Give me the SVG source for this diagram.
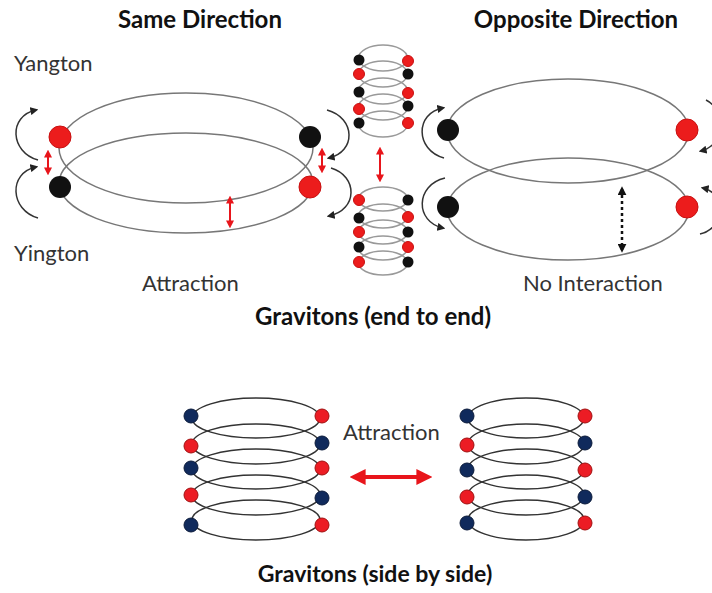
<svg xmlns="http://www.w3.org/2000/svg" width="712" height="593" viewBox="0 0 712 593">
<defs>
<style>
.t{font-family:Lato,"Open Sans","Liberation Sans",sans-serif;font-size:22px;fill:#333}
.b{font-family:Lato,"Open Sans","Liberation Sans",sans-serif;font-size:24px;font-weight:bold;fill:#111}
.ring{fill:none;stroke:#777;stroke-width:1.5}
.ringl{fill:none;stroke:#999;stroke-width:1.5}
.ringb{fill:none;stroke:#333;stroke-width:1.5}
.spin{fill:none;stroke:#333;stroke-width:1.5}
.red{fill:#ec1c1c;stroke:#c81010;stroke-width:1}
.blk{fill:#111}
.nav{fill:#102a5c;stroke:#0a1a3a;stroke-width:1}
.rd{fill:#ec1c24;stroke:#a01010;stroke-width:1}
.ra{fill:none;stroke:#e8151b;stroke-width:2}
</style>
<marker id="ah" viewBox="0 0 10 10" refX="7" refY="5" markerWidth="8" markerHeight="8" markerUnits="userSpaceOnUse" orient="auto"><path d="M0,0 L10,5 L0,10 z" fill="#222"/></marker>
<marker id="rh" viewBox="0 0 10 10" refX="7" refY="5" markerWidth="8" markerHeight="8" markerUnits="userSpaceOnUse" orient="auto-start-reverse"><path d="M0,0 L10,5 L0,10 z" fill="#e8151b"/></marker>
<marker id="rhb" viewBox="0 0 10 10" refX="6" refY="5" markerWidth="16" markerHeight="16" markerUnits="userSpaceOnUse" orient="auto-start-reverse"><path d="M0,0 L10,5 L0,10 z" fill="#e8151b"/></marker>
<marker id="kh" viewBox="0 0 10 10" refX="7" refY="5" markerWidth="9" markerHeight="9" markerUnits="userSpaceOnUse" orient="auto-start-reverse"><path d="M0,0 L10,5 L0,10 z" fill="#111"/></marker>
</defs>
<rect width="712" height="593" fill="#fff"/>

<g id="labels">
<text class="b" x="200" y="28" text-anchor="middle">Same Direction</text>
<text class="b" x="576" y="28" text-anchor="middle">Opposite Direction</text>
<text class="t" x="14" y="71">Yangton</text>
<text class="t" x="14" y="261">Yington</text>
<text class="t" x="142" y="291">Attraction</text>
<text class="t" x="523" y="291">No Interaction</text>
<text class="b" x="373" y="325" text-anchor="middle">Gravitons (end to end)</text>
<text class="t" x="343" y="440">Attraction</text>
<text class="b" x="375" y="582" text-anchor="middle" style="font-size:23px">Gravitons (side by side)</text>
</g>

<g id="same-direction">
<ellipse class="ring" cx="186" cy="148" rx="127" ry="55"/>
<ellipse class="ring" cx="186" cy="183" rx="127" ry="50"/>
<circle class="red" cx="60" cy="137" r="11"/>
<circle class="blk" cx="310" cy="137" r="11"/>
<circle class="blk" cx="60" cy="187" r="11"/>
<circle class="red" cx="310" cy="187" r="11"/>
</g>

<g id="opposite-direction">
<ellipse class="ring" cx="568" cy="131" rx="121" ry="52"/>
<ellipse class="ring" cx="568" cy="209" rx="121" ry="51"/>
<circle class="blk" cx="448" cy="130" r="11"/>
<circle class="red" cx="687" cy="130" r="11"/>
<circle class="blk" cx="448" cy="207" r="11"/>
<circle class="red" cx="687" cy="207" r="11"/>
</g>

<g id="center-stack-top">
<ellipse class="ringl" cx="383" cy="58" rx="24.5" ry="13"/>
<ellipse class="ringl" cx="383" cy="74" rx="24.5" ry="13"/>
<ellipse class="ringl" cx="383" cy="91" rx="24.5" ry="13"/>
<ellipse class="ringl" cx="383" cy="107" rx="24.5" ry="13"/>
<ellipse class="ringl" cx="383" cy="124" rx="24.5" ry="13"/>
<circle class="blk" cx="359" cy="60" r="5.5"/><circle class="red" cx="408" cy="61" r="5.5"/>
<circle class="red" cx="359" cy="74" r="5.5"/><circle class="blk" cx="408" cy="74" r="5.5"/>
<circle class="blk" cx="359" cy="92" r="5.5"/><circle class="red" cx="408" cy="93" r="5.5"/>
<circle class="red" cx="359" cy="109" r="5.5"/><circle class="blk" cx="408" cy="106" r="5.5"/>
<circle class="blk" cx="359" cy="123" r="5.5"/><circle class="red" cx="408" cy="123" r="5.5"/>
</g>

<g id="center-stack-bottom">
<ellipse class="ringl" cx="383" cy="199" rx="24.5" ry="12"/>
<ellipse class="ringl" cx="383" cy="216" rx="24.5" ry="12"/>
<ellipse class="ringl" cx="383" cy="232" rx="24.5" ry="12"/>
<ellipse class="ringl" cx="383" cy="248" rx="24.5" ry="12"/>
<ellipse class="ringl" cx="383" cy="263" rx="24.5" ry="12"/>
<circle class="red" cx="359" cy="200" r="5.5"/><circle class="blk" cx="408" cy="200" r="5.5"/>
<circle class="blk" cx="359" cy="218" r="5.5"/><circle class="red" cx="408" cy="217" r="5.5"/>
<circle class="red" cx="359" cy="232" r="5.5"/><circle class="blk" cx="408" cy="232" r="5.5"/>
<circle class="blk" cx="359" cy="247" r="5.5"/><circle class="red" cx="408" cy="247" r="5.5"/>
<circle class="red" cx="359" cy="262" r="5.5"/><circle class="blk" cx="408" cy="262" r="5.5"/>
</g>

<g id="side-stack-left">
<ellipse class="ringb" cx="256" cy="418" rx="64" ry="20"/>
<ellipse class="ringb" cx="256" cy="444" rx="64" ry="20"/>
<ellipse class="ringb" cx="256" cy="469" rx="64" ry="20"/>
<ellipse class="ringb" cx="256" cy="495" rx="64" ry="20"/>
<ellipse class="ringb" cx="256" cy="520" rx="64" ry="20"/>
<circle class="nav" cx="191" cy="416" r="7"/><circle class="rd" cx="322" cy="416" r="7"/>
<circle class="rd" cx="191" cy="446" r="7"/><circle class="nav" cx="322" cy="443" r="7"/>
<circle class="nav" cx="191" cy="468" r="7"/><circle class="rd" cx="322" cy="468" r="7"/>
<circle class="rd" cx="191" cy="495" r="7"/><circle class="nav" cx="322" cy="498" r="7"/>
<circle class="nav" cx="191" cy="525" r="7"/><circle class="rd" cx="322" cy="525" r="7"/>
</g>

<g id="side-stack-right">
<ellipse class="ringb" cx="526" cy="418" rx="58" ry="20"/>
<ellipse class="ringb" cx="526" cy="444" rx="58" ry="20"/>
<ellipse class="ringb" cx="526" cy="469" rx="58" ry="20"/>
<ellipse class="ringb" cx="526" cy="495" rx="58" ry="20"/>
<ellipse class="ringb" cx="526" cy="520" rx="58" ry="20"/>
<circle class="nav" cx="467" cy="416" r="7"/><circle class="rd" cx="585" cy="416" r="7"/>
<circle class="rd" cx="467" cy="445" r="7"/><circle class="nav" cx="585" cy="443" r="7"/>
<circle class="nav" cx="467" cy="470" r="7"/><circle class="rd" cx="585" cy="470" r="7"/>
<circle class="rd" cx="467" cy="497" r="7"/><circle class="nav" cx="585" cy="497" r="7"/>
<circle class="nav" cx="467" cy="523" r="7"/><circle class="rd" cx="585" cy="523" r="7"/>
</g>

<g id="connectors">
<path class="spin" d="M38,160 C10,152 8,116 36,110" marker-end="url(#ah)"/>
<path class="spin" d="M38,218 C10,210 8,173 36,167" marker-end="url(#ah)"/>
<path class="spin" d="M327,110 C356,118 356,152 329,158" marker-end="url(#ah)"/>
<path class="spin" d="M331,168 C358,176 358,210 329,216" marker-end="url(#ah)"/>
<path class="spin" d="M444,158 C415,150 415,113 443,108" marker-end="url(#ah)"/>
<path class="spin" d="M445,178 C415,185 415,222 443,228" marker-end="url(#ah)"/>
<path class="spin" d="M706,100 C726,110 726,145 701,151" marker-end="url(#ah)"/>
<path class="spin" d="M700,234 C726,228 726,193 703,188" marker-end="url(#ah)"/>
<line class="ra" x1="48" y1="152" x2="48" y2="173" marker-start="url(#rh)" marker-end="url(#rh)"/>
<line class="ra" x1="322" y1="150" x2="322" y2="171" marker-start="url(#rh)" marker-end="url(#rh)"/>
<line class="ra" x1="230" y1="198" x2="230" y2="226" marker-start="url(#rh)" marker-end="url(#rh)"/>
<line class="ra" x1="380" y1="149" x2="380" y2="180" marker-start="url(#rh)" marker-end="url(#rh)"/>
<line x1="622" y1="189" x2="622" y2="250" stroke="#111" stroke-width="2.5" stroke-dasharray="3,3" marker-start="url(#kh)" marker-end="url(#kh)"/>
<line x1="356" y1="477" x2="426" y2="477" stroke="#e8151b" stroke-width="4" marker-start="url(#rhb)" marker-end="url(#rhb)"/>
</g>
</svg>
